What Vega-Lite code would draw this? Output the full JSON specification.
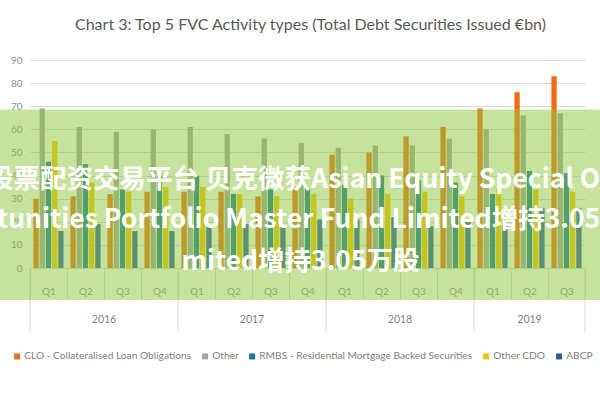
{
  "$schema": "https://vega.github.io/schema/vega-lite/v6.json",
  "width": 555,
  "height": 208,
  "autosize": {"type": "none"},
  "padding": {"left": 30, "top": 60, "right": 15, "bottom": 132},
  "background": "white",
  "title": {
    "text": "Chart 3: Top 5 FVC Activity types (Total Debt Securities Issued €bn)",
    "font": "Lato",
    "fontSize": 16,
    "fontWeight": "normal",
    "color": "#595959",
    "anchor": "middle",
    "frame": "group",
    "dx": 3,
    "offset": 22
  },
  "config": {
    "view": {"stroke": null},
    "axis": {"labelFont": "Lato", "labelColor": "#8c8c8c", "labelFontSize": 10}
  },
  "data": {
    "values": [
      {"period": "2016 Q1", "series": "CLO - Collateralised Loan Obligations", "value": 30},
      {"period": "2016 Q1", "series": "Other", "value": 69},
      {"period": "2016 Q1", "series": "RMBS - Residential Mortgage Backed Securities", "value": 46},
      {"period": "2016 Q1", "series": "Other CDO", "value": 55},
      {"period": "2016 Q1", "series": "ABCP", "value": 16},
      {"period": "2016 Q2", "series": "CLO - Collateralised Loan Obligations", "value": 31},
      {"period": "2016 Q2", "series": "Other", "value": 61},
      {"period": "2016 Q2", "series": "RMBS - Residential Mortgage Backed Securities", "value": 45},
      {"period": "2016 Q2", "series": "Other CDO", "value": 37},
      {"period": "2016 Q2", "series": "ABCP", "value": 19},
      {"period": "2016 Q3", "series": "CLO - Collateralised Loan Obligations", "value": 32},
      {"period": "2016 Q3", "series": "Other", "value": 59},
      {"period": "2016 Q3", "series": "RMBS - Residential Mortgage Backed Securities", "value": 34},
      {"period": "2016 Q3", "series": "Other CDO", "value": 33},
      {"period": "2016 Q3", "series": "ABCP", "value": 16},
      {"period": "2016 Q4", "series": "CLO - Collateralised Loan Obligations", "value": 33},
      {"period": "2016 Q4", "series": "Other", "value": 60},
      {"period": "2016 Q4", "series": "RMBS - Residential Mortgage Backed Securities", "value": 40},
      {"period": "2016 Q4", "series": "Other CDO", "value": 35},
      {"period": "2016 Q4", "series": "ABCP", "value": 16},
      {"period": "2017 Q1", "series": "CLO - Collateralised Loan Obligations", "value": 33},
      {"period": "2017 Q1", "series": "Other", "value": 61},
      {"period": "2017 Q1", "series": "RMBS - Residential Mortgage Backed Securities", "value": 40},
      {"period": "2017 Q1", "series": "Other CDO", "value": 35},
      {"period": "2017 Q1", "series": "ABCP", "value": 18},
      {"period": "2017 Q2", "series": "CLO - Collateralised Loan Obligations", "value": 33},
      {"period": "2017 Q2", "series": "Other", "value": 58},
      {"period": "2017 Q2", "series": "RMBS - Residential Mortgage Backed Securities", "value": 32},
      {"period": "2017 Q2", "series": "Other CDO", "value": 32},
      {"period": "2017 Q2", "series": "ABCP", "value": 19},
      {"period": "2017 Q3", "series": "CLO - Collateralised Loan Obligations", "value": 31},
      {"period": "2017 Q3", "series": "Other", "value": 56},
      {"period": "2017 Q3", "series": "RMBS - Residential Mortgage Backed Securities", "value": 34},
      {"period": "2017 Q3", "series": "Other CDO", "value": 31},
      {"period": "2017 Q3", "series": "ABCP", "value": 18},
      {"period": "2017 Q4", "series": "CLO - Collateralised Loan Obligations", "value": 35},
      {"period": "2017 Q4", "series": "Other", "value": 54},
      {"period": "2017 Q4", "series": "RMBS - Residential Mortgage Backed Securities", "value": 35},
      {"period": "2017 Q4", "series": "Other CDO", "value": 32},
      {"period": "2017 Q4", "series": "ABCP", "value": 21},
      {"period": "2018 Q1", "series": "CLO - Collateralised Loan Obligations", "value": 49},
      {"period": "2018 Q1", "series": "Other", "value": 52},
      {"period": "2018 Q1", "series": "RMBS - Residential Mortgage Backed Securities", "value": 36},
      {"period": "2018 Q1", "series": "Other CDO", "value": 30},
      {"period": "2018 Q1", "series": "ABCP", "value": 21},
      {"period": "2018 Q2", "series": "CLO - Collateralised Loan Obligations", "value": 50},
      {"period": "2018 Q2", "series": "Other", "value": 53},
      {"period": "2018 Q2", "series": "RMBS - Residential Mortgage Backed Securities", "value": 40},
      {"period": "2018 Q2", "series": "Other CDO", "value": 32},
      {"period": "2018 Q2", "series": "ABCP", "value": 22},
      {"period": "2018 Q3", "series": "CLO - Collateralised Loan Obligations", "value": 57},
      {"period": "2018 Q3", "series": "Other", "value": 53},
      {"period": "2018 Q3", "series": "RMBS - Residential Mortgage Backed Securities", "value": 38},
      {"period": "2018 Q3", "series": "Other CDO", "value": 33},
      {"period": "2018 Q3", "series": "ABCP", "value": 18},
      {"period": "2018 Q4", "series": "CLO - Collateralised Loan Obligations", "value": 61},
      {"period": "2018 Q4", "series": "Other", "value": 56},
      {"period": "2018 Q4", "series": "RMBS - Residential Mortgage Backed Securities", "value": 37},
      {"period": "2018 Q4", "series": "Other CDO", "value": 31},
      {"period": "2018 Q4", "series": "ABCP", "value": 20},
      {"period": "2019 Q1", "series": "CLO - Collateralised Loan Obligations", "value": 69},
      {"period": "2019 Q1", "series": "Other", "value": 60},
      {"period": "2019 Q1", "series": "RMBS - Residential Mortgage Backed Securities", "value": 32},
      {"period": "2019 Q1", "series": "Other CDO", "value": 34},
      {"period": "2019 Q1", "series": "ABCP", "value": 18},
      {"period": "2019 Q2", "series": "CLO - Collateralised Loan Obligations", "value": 76},
      {"period": "2019 Q2", "series": "Other", "value": 66},
      {"period": "2019 Q2", "series": "RMBS - Residential Mortgage Backed Securities", "value": 42},
      {"period": "2019 Q2", "series": "Other CDO", "value": 34},
      {"period": "2019 Q2", "series": "ABCP", "value": 26},
      {"period": "2019 Q3", "series": "CLO - Collateralised Loan Obligations", "value": 83},
      {"period": "2019 Q3", "series": "Other", "value": 67},
      {"period": "2019 Q3", "series": "RMBS - Residential Mortgage Backed Securities", "value": 41},
      {"period": "2019 Q3", "series": "Other CDO", "value": 33},
      {"period": "2019 Q3", "series": "ABCP", "value": 26}
    ]
  },
  "layer": [
    {
      "mark": {"type": "bar"},
      "encoding": {
        "x": {
          "field": "period",
          "type": "nominal",
          "scale": {
            "domain": ["2016 Q1", "2016 Q2", "2016 Q3", "2016 Q4", "2017 Q1", "2017 Q2", "2017 Q3", "2017 Q4", "2018 Q1", "2018 Q2", "2018 Q3", "2018 Q4", "2019 Q1", "2019 Q2", "2019 Q3"],
            "paddingInner": 0,
            "paddingOuter": 0
          },
          "axis": {
            "title": null,
            "labelAngle": 0,
            "labelExpr": "split(datum.label, ' ')[1]",
            "tickBand": "extent",
            "tickSize": 32,
            "tickColor": "#d9d9d9",
            "domainColor": "#d9d9d9",
            "labelPadding": -14
          }
        },
        "xOffset": {
          "field": "series",
          "type": "nominal",
          "scale": {"domain": ["CLO - Collateralised Loan Obligations", "Other", "RMBS - Residential Mortgage Backed Securities", "Other CDO", "ABCP"], "paddingInner": 0.15, "paddingOuter": 0.55}
        },
        "y": {
          "field": "value",
          "type": "quantitative",
          "scale": {"domain": [0, 90], "nice": false},
          "axis": {
            "title": null,
            "tickCount": 10,
            "domain": false,
            "ticks": false,
            "labelPadding": 8,
            "gridColor": "#d9d9d9"
          }
        },
        "color": {
          "field": "series",
          "type": "nominal",
          "scale": {
            "domain": ["CLO - Collateralised Loan Obligations", "Other", "RMBS - Residential Mortgage Backed Securities", "Other CDO", "ABCP"],
            "range": ["#f26a14", "#a5a5a5", "#1b7797", "#ffc000", "#2a5aa8"]
          },
          "legend": {
            "title": null,
            "orient": "none",
            "direction": "horizontal",
            "legendX": -18,
            "legendY": 291,
            "symbolType": "square",
            "symbolSize": 36,
            "symbolStrokeWidth": 0,
            "labelFont": "Lato",
            "labelFontSize": 10.2,
            "labelColor": "#808080",
            "labelOffset": 2,
            "labelLimit": 300,
            "columnPadding": 8
          }
        }
      }
    },
    {
      "data": {"values": [{"period": "2016 Q1"}, {"period": "2017 Q1"}, {"period": "2018 Q1"}, {"period": "2019 Q1"}]},
      "mark": {"type": "rule", "color": "#d9d9d9"},
      "encoding": {
        "x": {"field": "period", "type": "nominal", "bandPosition": 0},
        "y": {"datum": 0, "type": "quantitative"},
        "y2": {"datum": -28}
      }
    },
    {
      "data": {"values": [{"period": "2019 Q3"}]},
      "mark": {"type": "rule", "color": "#d9d9d9"},
      "encoding": {
        "x": {"field": "period", "type": "nominal", "bandPosition": 1},
        "y": {"datum": 0, "type": "quantitative"},
        "y2": {"datum": -28}
      }
    },
    {
      "data": {"values": [{"period": "2016 Q3", "year": "2016"}, {"period": "2017 Q3", "year": "2017"}, {"period": "2018 Q3", "year": "2018"}]},
      "mark": {"type": "text", "font": "Lato", "fontSize": 10.5, "color": "#808080", "baseline": "middle"},
      "encoding": {
        "x": {"field": "period", "type": "nominal", "bandPosition": 0},
        "y": {"datum": -22.5, "type": "quantitative"},
        "text": {"field": "year"}
      }
    },
    {
      "data": {"values": [{"period": "2019 Q2", "year": "2019"}]},
      "mark": {"type": "text", "font": "Lato", "fontSize": 10.5, "color": "#808080", "baseline": "middle"},
      "encoding": {
        "x": {"field": "period", "type": "nominal", "bandPosition": 0.5},
        "y": {"datum": -22.5, "type": "quantitative"},
        "text": {"field": "year"}
      }
    },
    {
      "data": {"values": [{}]},
      "mark": {"type": "rect", "color": "#8cc83c", "opacity": 0.5, "xOffset": -30, "x2Offset": 15},
      "encoding": {
        "x": {"value": 0},
        "x2": {"value": "width"},
        "y": {"datum": 68.6, "type": "quantitative"},
        "y2": {"datum": -13.9}
      }
    },
    {
      "data": {"values": [{"line": "股票配资交易平台 贝克微获Asian Equity Special Opportunities", "period": "2016 Q1"}]},
      "mark": {"type": "text", "font": "Noto Sans CJK SC", "fontSize": 26.5, "fontWeight": "bold", "color": "white", "align": "left", "baseline": "middle", "dx": -43},
      "encoding": {
        "x": {"field": "period", "type": "nominal", "bandPosition": 0},
        "y": {"datum": 38, "type": "quantitative"},
        "text": {"field": "line"}
      }
    },
    {
      "data": {"values": [{"line": "tunities Portfolio Master Fund Limited增持3.05万股", "period": "2016 Q1"}]},
      "mark": {"type": "text", "font": "Noto Sans CJK SC", "fontSize": 26.5, "fontWeight": "bold", "color": "white", "align": "left", "baseline": "middle", "dx": -33},
      "encoding": {
        "x": {"field": "period", "type": "nominal", "bandPosition": 0},
        "y": {"datum": 20.8, "type": "quantitative"},
        "text": {"field": "line"}
      }
    },
    {
      "data": {"values": [{"line": "mited增持3.05万股", "period": "2017 Q4"}]},
      "mark": {"type": "text", "font": "Noto Sans CJK SC", "fontSize": 26.5, "fontWeight": "bold", "color": "white", "align": "center", "baseline": "middle", "dx": -7},
      "encoding": {
        "x": {"field": "period", "type": "nominal", "bandPosition": 0.5},
        "y": {"datum": 2.8, "type": "quantitative"},
        "text": {"field": "line"}
      }
    }
  ]
}
